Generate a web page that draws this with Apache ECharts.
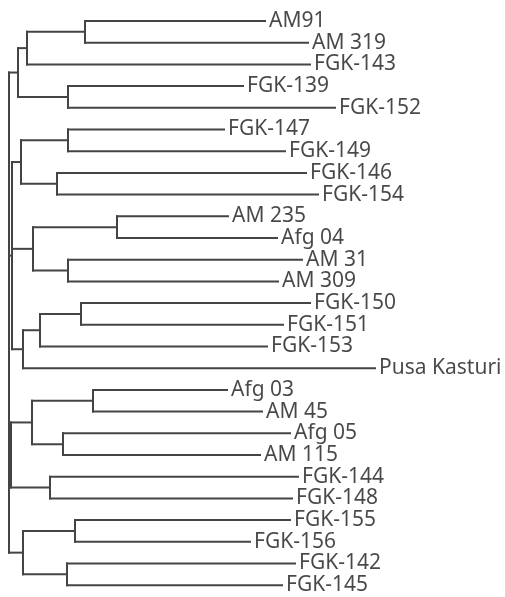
<!DOCTYPE html>
<html>
<head>
<meta charset="utf-8">
<script src="https://cdn.jsdelivr.net/npm/echarts@6/dist/echarts.min.js"></script>
<style>
html,body{margin:0;padding:0;background:#fff;}
#chart{width:505px;height:597px;}
</style>
</head>
<body>
<div id="chart"></div>
<script>
// Leaves (top to bottom)
const leafNames = ['AM91','AM 319','FGK-143','FGK-139','FGK-152','FGK-147','FGK-149','FGK-146','FGK-154','AM 235','Afg 04','AM 31','AM 309','FGK-150','FGK-151','FGK-153','Pusa Kasturi','Afg 03','AM 45','Afg 05','AM 115','FGK-144','FGK-148','FGK-155','FGK-156','FGK-142','FGK-145'];
// Distance of each leaf tip from the root
const leafHeights = [257,300,302,235,327,216,277,298,310,220,269,294,270,302,275,259,367,219,254,282,252,290,284,282,242,287,274];
// Internal nodes: children (index < 27 = leaf, otherwise internal node 27+k)
const nodeChildren = [[0,1],[27,2],[3,4],[28,29],[5,6],[7,8],[31,32],[9,10],[11,12],[34,35],[13,14],[37,15],[38,16],[17,18],[19,20],[40,41],[21,22],[23,24],[25,26],[44,45],[33,36,39],[42,43],[30,47,48,46]];
// Distance of each internal node from the root
const nodeHeights = [77,19,60,10,60,49,13,109,60,25,73,32,15,85,55,24,42,67,59,15,4,3,1];

const nLeaf = leafNames.length;
const posX = [], posY = [];
leafNames.forEach((n,i)=>{posX[i]=leafHeights[i];posY[i]=i;});
nodeChildren.forEach((ch,k)=>{
  const id = nLeaf + k;
  posX[id] = nodeHeights[k];
  const ys = ch.map(c=>posY[c]);
  posY[id] = (Math.min(...ys) + Math.max(...ys)) / 2;
});
const segments = [];
nodeChildren.forEach((ch,k)=>{
  const id = nLeaf + k;
  const ys = ch.map(c=>posY[c]);
  segments.push([posX[id], Math.min(...ys), posX[id], Math.max(...ys)]);
  ch.forEach(c=>segments.push([posX[id], posY[c], posX[c], posY[c]]));
});

const chart = echarts.init(document.getElementById('chart'), null, {renderer:'canvas'});
chart.setOption({
  animation:false,
  backgroundColor:'#fff',
  grid:{left:8, width:400, top:10.15, height:585.9},
  xAxis:{type:'value', min:0, max:400, show:false},
  yAxis:{type:'value', min:-0.5, max:nLeaf-0.5, inverse:true, show:false},
  series:[
    {
      type:'custom',
      data:segments,
      renderItem:function(params, api){
        const p1 = api.coord([api.value(0), api.value(1)]);
        const p2 = api.coord([api.value(2), api.value(3)]);
        return {type:'line', shape:{x1:p1[0],y1:p1[1],x2:p2[0],y2:p2[1]},
          style:{stroke:'#444', lineWidth:2, lineCap:'square'}};
      },
      silent:true
    },
    {
      type:'scatter',
      symbolSize:0,
      data:leafNames.map((n,i)=>[leafHeights[i], i, n]),
      label:{show:true, position:'right', distance:4, formatter:p=>p.data[2],
        fontFamily:'Noto Sans', fontSize:21, color:'#1a1a1a'},
      silent:true
    }
  ]
});
</script>
</body>
</html>
